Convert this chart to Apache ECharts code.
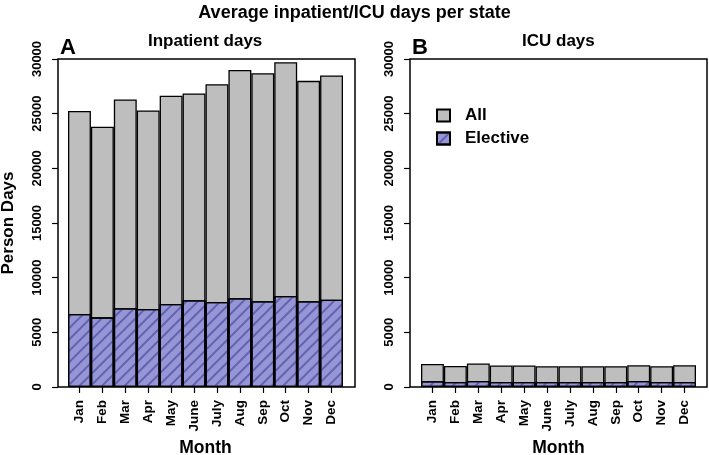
<!DOCTYPE html>
<html><head><meta charset="utf-8">
<script src="https://cdn.jsdelivr.net/npm/echarts@6/dist/echarts.min.js"></script>
<style>html,body{margin:0;padding:0;background:#fff}#c{width:709px;height:455px}</style>
</head><body><div id="c"></div>
<script>
const months = ['Jan','Feb','Mar','Apr','May','June','July','Aug','Sep','Oct','Nov','Dec'];
const inpatientAll = [25250,23800,26300,25300,26650,26850,27700,29000,28700,29700,28000,28500];
const inpatientElective = [6680,6370,7200,7130,7590,7930,7780,8120,7840,8330,7840,7990];
const icuAll = [2110,1930,2150,1960,1960,1900,1900,1900,1900,1990,1900,1990];
const icuElective = [520,460,550,460,460,460,460,460,460,550,460,460];
const yTicks = [0,5000,10000,15000,20000,25000,30000];

const FONT = 'Liberation Sans, Arial, sans-serif';
const chart = echarts.init(document.getElementById('c'), null, {renderer:'canvas'});
const allStyle = {color:'#bebebe', borderColor:'#000', borderWidth:1.3};
const elStyle = {color:'#9696d6', borderColor:'#000', borderWidth:1.3,
  decal:{symbol:'rect', symbolSize:1, dashArrayX:[1,0], dashArrayY:[1.5,5.5], rotation:-Math.PI/4, color:'rgba(55,55,150,0.55)'}};

function frameY(idx, showName){
  return {type:'value', gridIndex:idx, min:yTicks[0], max:yTicks[yTicks.length-1], interval:yTicks[1]-yTicks[0],
    name: showName ? 'Person Days' : '', nameLocation:'middle', nameGap:41, nameRotate:90,
    nameTextStyle:{fontFamily:FONT, fontWeight:'bold', fontSize:17, color:'#000'},
    axisLine:{show:false}, splitLine:{show:false},
    axisTick:{show:true, length:6, lineStyle:{color:'#000', width:1.2}},
    axisLabel:{rotate:90, margin:14, formatter:v=>String(v), fontFamily:FONT, fontWeight:'bold', fontSize:13, color:'#000'}};
}
function hiddenY(idx){
  return {type:'value', gridIndex:idx, min:yTicks[0], max:yTicks[yTicks.length-1], show:false, splitLine:{show:false}};
}
function frameX(idx){
  return {type:'value', gridIndex:idx, show:false, min:0, max:1, splitLine:{show:false}};
}
function innerX(idx){
  return {type:'category', gridIndex:idx, data:months, boundaryGap:true,
    name:'Month', nameLocation:'middle', nameGap:51,
    nameTextStyle:{fontFamily:FONT, fontWeight:'bold', fontSize:17.5, color:'#000'},
    axisLine:{show:false},
    axisTick:{show:true, alignWithLabel:true, length:6, lineStyle:{color:'#000', width:1.2}},
    axisLabel:{rotate:90, margin:13, interval:0, fontFamily:FONT, fontWeight:'bold', fontSize:13.5, color:'#000'}};
}
const gridBase = {outerBoundsMode:'none', containLabel:false};

chart.setOption({
  animation:false,
  backgroundColor:'#fff',
  title:[
    {text:'Average inpatient/ICU days per state', left:'center', top:4, padding:0, textStyle:{fontFamily:FONT, fontWeight:'bold', fontSize:18, color:'#000'}},
    {text:'Inpatient days', left:148, top:33, padding:0, textStyle:{fontFamily:FONT, fontWeight:'bold', fontSize:17, color:'#000'}},
    {text:'ICU days', left:522, top:33, padding:0, textStyle:{fontFamily:FONT, fontWeight:'bold', fontSize:17, color:'#000'}},
    {text:'A', left:60, top:37, padding:0, textStyle:{fontFamily:FONT, fontWeight:'bold', fontSize:22, color:'#000'}},
    {text:'B', left:412, top:37, padding:0, textStyle:{fontFamily:FONT, fontWeight:'bold', fontSize:22, color:'#000'}}
  ],
  legend:{data:['All','Elective'], orient:'vertical', left:436, top:107, padding:0, itemWidth:13, itemHeight:12, itemGap:6,
    icon:'rect', selectedMode:false,
    textStyle:{fontFamily:FONT, fontWeight:'bold', fontSize:17, color:'#000', padding:[0,0,0,10]}},
  grid:[
    Object.assign({left:58, top:59, width:297, height:328, show:true, borderColor:'#000', borderWidth:1.5, backgroundColor:'transparent'}, gridBase),
    Object.assign({left:68, top:59, width:275, height:328}, gridBase),
    Object.assign({left:410, top:59, width:297, height:328, show:true, borderColor:'#000', borderWidth:1.5, backgroundColor:'transparent'}, gridBase),
    Object.assign({left:421, top:59, width:275, height:328}, gridBase)
  ],
  xAxis:[frameX(0), innerX(1), frameX(2), innerX(3)],
  yAxis:[frameY(0,true), hiddenY(1), frameY(2,false), hiddenY(3)],
  series:[
    {name:'All', type:'bar', xAxisIndex:1, yAxisIndex:1, data:inpatientAll, barWidth:'100%', barGap:'-100%', itemStyle:allStyle},
    {name:'Elective', type:'bar', xAxisIndex:1, yAxisIndex:1, data:inpatientElective, barWidth:'100%', barGap:'-100%', itemStyle:elStyle},
    {name:'All', type:'bar', xAxisIndex:3, yAxisIndex:3, data:icuAll, barWidth:'100%', barGap:'-100%', itemStyle:allStyle},
    {name:'Elective', type:'bar', xAxisIndex:3, yAxisIndex:3, data:icuElective, barWidth:'100%', barGap:'-100%', itemStyle:elStyle}
  ]
});
</script></body></html>
